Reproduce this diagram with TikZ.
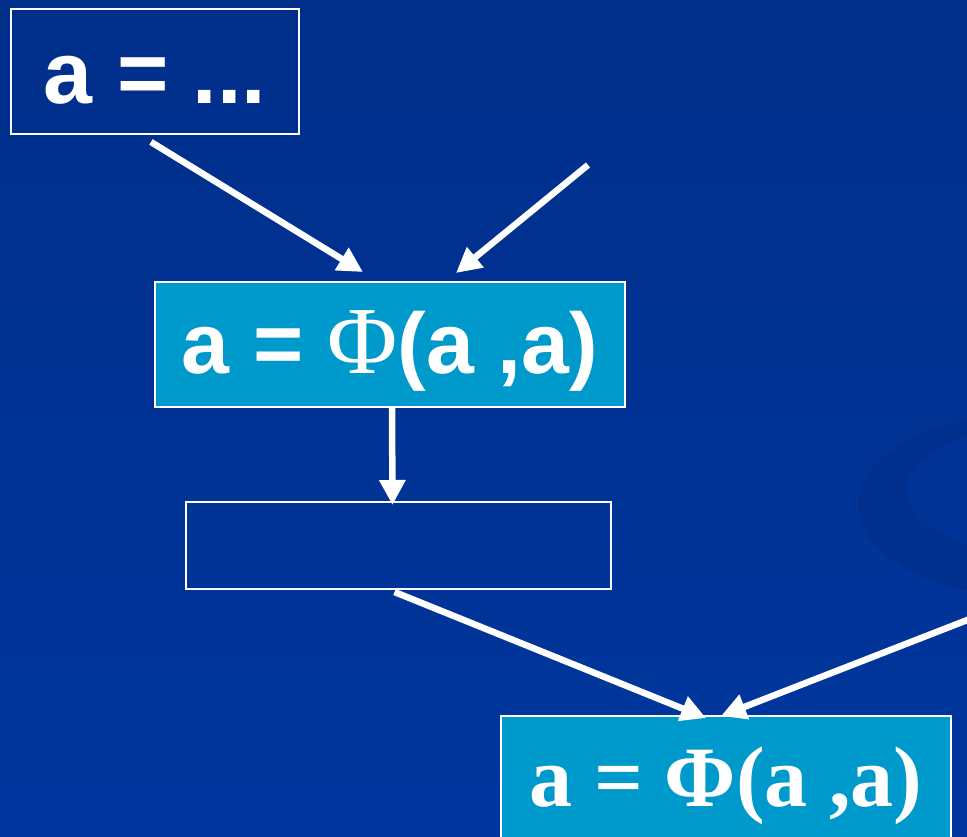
\documentclass[tikz,border=0pt]{standalone}
\usepackage{fontspec}
\setmainfont{Liberation Serif}
\newfontfamily\arial{Liberation Sans}
\usetikzlibrary{arrows.meta,positioning}
\definecolor{bgtop}{HTML}{002F8A}
\definecolor{bgbot}{HTML}{00369E}
\definecolor{swirl}{HTML}{002C86}
\definecolor{phicyan}{HTML}{0099CC}
\tikzset{stmt/.style={draw=white,line width=2pt,anchor=north west,inner sep=0pt,
    text=white,text depth=0pt},
  phibox/.style={stmt,fill=phicyan},
  plainbox/.style={stmt},
  flow/.style={draw=white,line width=6.5pt,-{Triangle[length=25pt,width=25pt]}}}

\begin{document}
\begin{tikzpicture}[x=1pt,y=-1pt]
\useasboundingbox (0,0) rectangle (967,837);
\clip (0,0) rectangle (967,837);
\fill[top color=bgtop,bottom color=bgbot] (0,0) rectangle (967,837);
% faint swirl on the right
\fill[swirl,opacity=.45,even odd rule] (1030,505) ellipse [x radius=172,y radius=92]
  (1058,490) ellipse [x radius=152,y radius=68];
% statements
\node[plainbox,minimum width=288pt,minimum height=125pt,text height=65pt,
  font=\arial\bfseries\fontsize{88}{90}\selectfont] (def) at (10,8) {a = ...};
\node[phibox,minimum width=470pt,minimum height=125pt,text height=57pt,
  font=\arial\bfseries\fontsize{86}{88}\selectfont] (phia) at (154,281)
  {a = {\rmfamily\mdseries\fontsize{96}{98}\selectfont Φ}(a ,a)};
\node[plainbox,minimum width=425pt,minimum height=87pt] (blank) at (185,501) {};
\node[phibox,minimum width=450pt,minimum height=145pt,text height=35pt,
  font=\bfseries\fontsize{86}{88}\selectfont] (phib) at (500,715)
  {a = Φ(a ,a)};
% edges
\coordinate (inA) at (588,165);
\coordinate (inB) at (975,617);
\draw[flow] ([shift={(-4,7)}]def.south) -- ([shift={(-27,-9)}]phia.north);
\draw[flow] (inA) -- ([shift={(66,-8)}]phia.north);
\draw[flow] ([shift={(2,0)}]phia.south) -- ([shift={(-6,4)}]blank.north);
\draw[flow] ([shift={(-4,2)}]blank.south) -- ([shift={(-20,3)}]phib.north);
\draw[flow] (inB) -- ([shift={(-5,1)}]phib.north);
\end{tikzpicture}
\end{document}
